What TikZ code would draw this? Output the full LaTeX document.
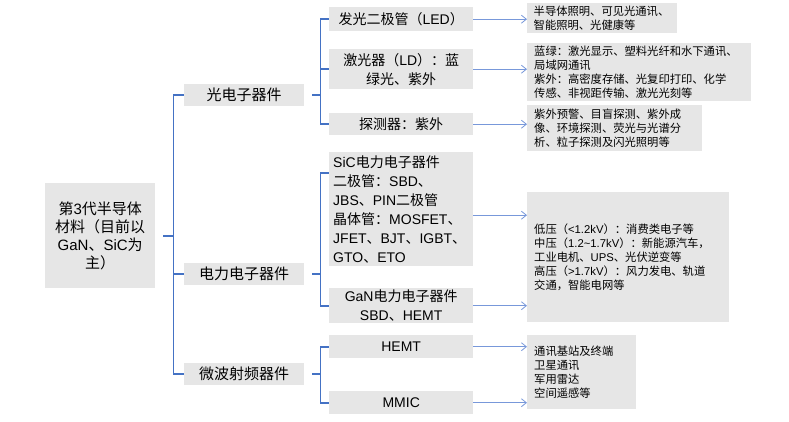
\documentclass[tikz,border=0pt]{standalone}
\usepackage{fontspec}
\usepackage{tikz}
\usetikzlibrary{arrows.meta}
\setmainfont{Noto Sans CJK SC}
\newfontfamily\latfont{Liberation Sans}
\newcommand{\ltn}[1]{{\latfont #1}}
\definecolor{boxgray}{HTML}{E6E6E6}
\definecolor{brk}{HTML}{4472C4}
\definecolor{arw}{HTML}{7898DA}
\tikzset{box/.style={fill=boxgray, inner sep=0pt, align=center, anchor=north west},
  lone/.style={minimum width=120pt, minimum height=22pt, font=\fontsize{15}{18}\selectfont},
  ltwo/.style={minimum width=144pt, font=\fontsize{14}{19}\selectfont},
  rbox/.style={align=left, inner xsep=7pt, font=\fontsize{11.3}{14}\selectfont},
  bracket/.style={draw=brk, line width=1.6pt},
  arr/.style={draw=arw, line width=0.8pt, -{Straight Barb[length=5pt,width=8pt]}}}
\begin{document}
\begin{tikzpicture}[x=1pt,y=-1pt]
\useasboundingbox (0,0) rectangle (789,421);
\node[box, minimum width=110pt, minimum height=105pt, font=\fontsize{15}{18}\selectfont] (root) at (45,183)
  {第\ltn{3}代半导体\\材料（目前以\\ \ltn{GaN}、\ltn{SiC}为\\主）};
\node[box, lone] (opto) at (184,84) {光电子器件};
\node[box, lone] (power) at (184,263) {电力电子器件};
\node[box, lone] (micro) at (184,363) {微波射频器件};
\node[box, ltwo, minimum height=24pt] (led) at (329,7) {发光二极管（\ltn{LED}）};
\node[box, ltwo, minimum height=40pt] (ld) at (329,49) {激光器（\ltn{LD}）：蓝\\绿光、紫外};
\node[box, ltwo, minimum height=22pt] (det) at (329,113) {探测器：紫外};
\node[box, ltwo, minimum height=114pt, align=left, text width=136pt, inner xsep=4pt] (sic) at (329,152)
  {\ltn{SiC}电力电子器件\\二极管：\ltn{SBD}、\\ \ltn{JBS}、\ltn{PIN}二极管\\晶体管：\ltn{MOSFET}、\\ \ltn{JFET}、\ltn{BJT}、\ltn{IGBT}、\\ \ltn{GTO}、\ltn{ETO}};
\node[box, ltwo, minimum height=35pt] (gan) at (329,288) {\ltn{GaN}电力电子器件\\ \ltn{SBD}、\ltn{HEMT}};
\node[box, ltwo, minimum height=23pt] (hemt) at (329,335) {\ltn{HEMT}};
\node[box, ltwo, minimum height=23pt] (mmic) at (329,391) {\ltn{MMIC}};
\node[box, rbox, text width=137pt, inner xsep=6.5pt, minimum height=30pt] (rled) at (527,3)
  {半导体照明、可见光通讯、\\智能照明、光健康等};
\node[box, rbox, text width=210pt, minimum height=58pt] (rld) at (527,43)
  {蓝绿：激光显示、塑料光纤和水下通讯、\\局域网通讯\\紫外：高密度存储、光复印打印、化学\\传感、非视距传输、激光光刻等};
\node[box, rbox, text width=161pt, minimum height=46pt] (rdet) at (527,105)
  {紫外预警、目盲探测、紫外成\\像、环境探测、荧光与光谱分\\析、粒子探测及闪光照明等};
\node[box, rbox, text width=188pt, minimum height=130pt] (rpow) at (527,192)
  {低压（\ltn{<1.2kV}）：消费类电子等\\中压（\ltn{1.2\textasciitilde1.7kV}）：新能源汽车，\\工业电机、\ltn{UPS}、光伏逆变等\\高压（\ltn{>1.7kV}）：风力发电、轨道\\交通，智能电网等};
\node[box, rbox, text width=95pt, minimum height=74pt] (rmic) at (527,335)
  {通讯基站及终端\\卫星通讯\\军用雷达\\空间遥感等};
\coordinate (rj) at ([xshift=18pt]root.east);
\coordinate (oj) at ([xshift=16pt]opto.east);
\coordinate (pj) at ([xshift=16pt]power.east);
\coordinate (mj) at ([xshift=16pt]micro.east);
\draw[bracket] ([xshift=8pt]root.east) -- (rj);
\draw[bracket] (rj) |- (opto.west); \draw[bracket] (rj) |- (power.west); \draw[bracket] (rj) |- (micro.west);
\draw[bracket] ([xshift=8pt]opto.east) -- (oj);
\draw[bracket] (oj) |- (led.west); \draw[bracket] (oj) |- (ld.west); \draw[bracket] (oj) |- (det.west);
\draw[bracket] ([xshift=8pt]power.east) -- (pj);
\draw[bracket] (pj) |- ([yshift=-21pt]sic.north west); \draw[bracket] (pj) |- (gan.west);
\draw[bracket] ([xshift=8pt]micro.east) -- (mj);
\draw[bracket] (mj) |- (hemt.west); \draw[bracket] (mj) |- (mmic.west);
\coordinate (sicout) at ([yshift=-6pt]sic.east);
\draw[arr] (led.east) -- (led.east -| rled.west);
\draw[arr] (ld.east) -- (ld.east -| rld.west);
\draw[arr] (det.east) -- (det.east -| rdet.west);
\draw[arr] (sicout) -- (sicout -| rpow.west);
\draw[arr] (gan.east) -- (gan.east -| rpow.west);
\draw[arr] (hemt.east) -- (hemt.east -| rmic.west);
\draw[arr] (mmic.east) -- (mmic.east -| rmic.west);
\end{tikzpicture}
\end{document}
